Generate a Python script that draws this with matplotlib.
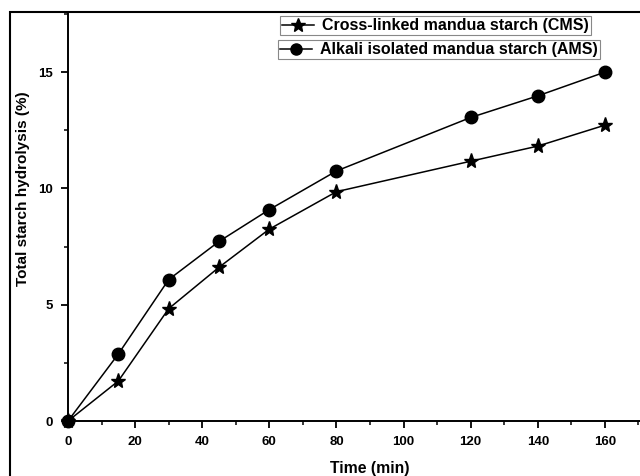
import matplotlib
matplotlib.use("Agg")
import matplotlib.pyplot as plt
from matplotlib.ticker import MultipleLocator, FuncFormatter
from matplotlib.patches import Rectangle
from matplotlib.lines import Line2D

plt.rcParams['font.family'] = ['Liberation Sans', 'DejaVu Sans']
plt.rcParams['font.weight'] = 'bold'

time_min = [0, 15, 30, 45, 60, 80, 120, 140, 160]
cms = [0, 1.72, 4.83, 6.61, 8.25, 9.86, 11.17, 11.82, 12.72]
ams = [0, 2.88, 6.08, 7.72, 9.09, 10.75, 13.05, 13.98, 15.0]
cms_label = "Cross-linked mandua starch (CMS)"
ams_label = "Alkali isolated mandua starch (AMS)"
x_label = "Time (min)"
y_label = "Total starch hydrolysis (%)"

W, H = 640, 476
fig = plt.figure(figsize=(W / 100, H / 100), dpi=100)

# axes extends past the right edge of the canvas
ax_w = 604
ax = fig.add_axes([68 / W, (H - 421) / H, ax_w / W, (421 - 14) / H])
ax.set_xlim(0, 180)
ax.set_ylim(0, 17.5)

lw = 1.1
ax.plot(time_min, cms, color='black', lw=lw, marker='*', ms=11, mec='black',
        mfc='black', clip_on=False, zorder=3)
ax.plot(time_min, ams, color='black', lw=lw, marker='o', ms=9, mec='black',
        mfc='black', clip_on=False, zorder=3)

for s in ('top', 'right'):
    ax.spines[s].set_visible(False)
for s in ('left', 'bottom'):
    ax.spines[s].set_linewidth(1.4)

ax.xaxis.set_major_locator(MultipleLocator(20))
ax.xaxis.set_minor_locator(MultipleLocator(10))
ax.yaxis.set_major_locator(MultipleLocator(5))
ax.yaxis.set_minor_locator(MultipleLocator(2.5))
# labels beyond the last sample would fall off the canvas
ax.xaxis.set_major_formatter(FuncFormatter(lambda v, p: f"{v:.0f}" if v <= 160 else ""))
ax.tick_params(which='major', direction='out', length=5, width=1.3,
               labelsize=9.5, pad=6)
ax.tick_params(which='minor', direction='out', length=3, width=1.1)
for t in ax.get_xticklabels() + ax.get_yticklabels():
    t.set_fontweight('bold')

ax.set_xlabel(x_label, fontsize=11.3, fontweight='bold')
ax.set_ylabel(y_label, fontsize=11, fontweight='bold')
ax.xaxis.set_label_coords((370 - 68) / ax_w, (421 - 468) / 407)
ax.yaxis.set_label_coords((23 - 68) / ax_w, (421 - 189) / 407)
ax.xaxis.label.set_va('center')
ax.yaxis.label.set_va('center')

# one framed box per series
h1 = Line2D([], [], color='black', lw=lw, marker='*', ms=10)
h2 = Line2D([], [], color='black', lw=lw, marker='o', ms=8)
kw = dict(frameon=True, fancybox=False, edgecolor='#888888', framealpha=1,
          borderpad=0.12, handlelength=2.0, handletextpad=0.5,
          borderaxespad=0, prop={'weight': 'bold', 'size': 11.5})
leg1 = ax.legend([h1], [cms_label], loc='upper left',
                 bbox_to_anchor=(280 / W, (H - 16.5) / H),
                 bbox_transform=fig.transFigure, **kw)
leg1.get_frame().set_linewidth(0.8)
ax.add_artist(leg1)
leg2 = ax.legend([h2], [ams_label], loc='upper left',
                 bbox_to_anchor=(278 / W, (H - 40.5) / H),
                 bbox_transform=fig.transFigure, **kw)
leg2.get_frame().set_linewidth(0.8)

# outer frame of the figure
fig.patches.append(Rectangle((10 / W, -0.2), 2, (H - 12) / H + 0.2,
                             transform=fig.transFigure, fill=False,
                             lw=1.5, edgecolor='black'))

fig.savefig("out.png", dpi=100)
